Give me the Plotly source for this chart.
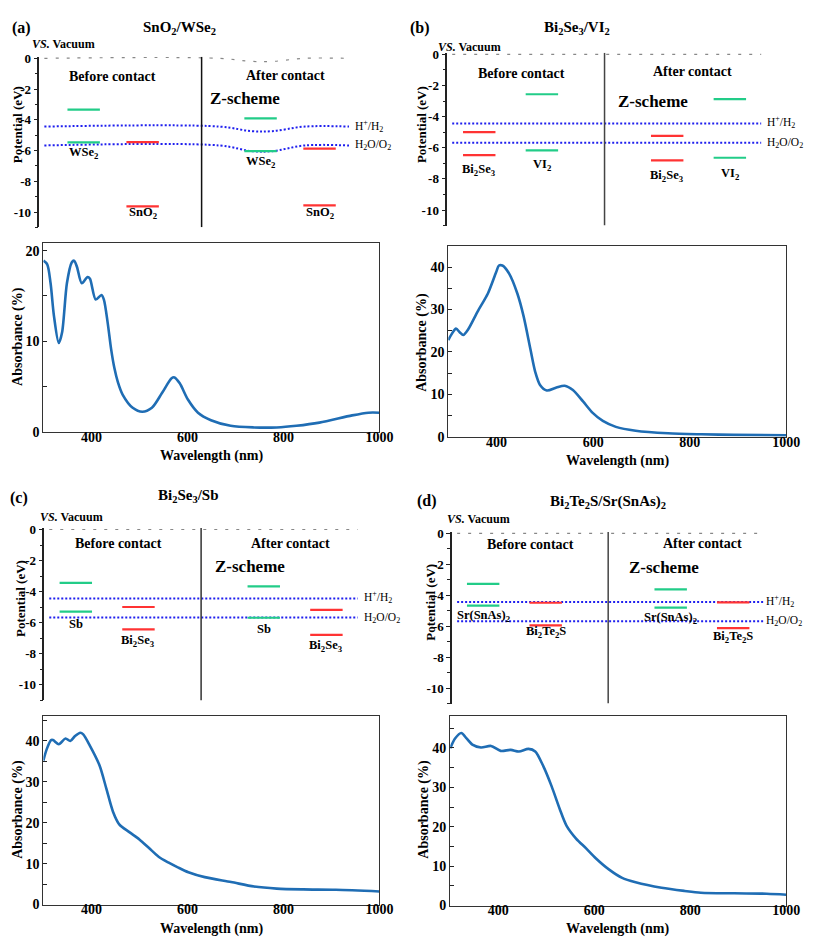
import plotly.graph_objects as go

W, H = 813, 940
FONT = "Liberation Serif"

# ------------------------------------------------------------------ data
# Band-edge potentials (eV vs. vacuum); order = [left material, right material]
a_title = "SnO<sub>2</sub>/WSe<sub>2</sub>"
a_materials = ["WSe<sub>2</sub>", "SnO<sub>2</sub>"]
a_cb_before = [-3.34, -5.45]
a_vb_before = [-5.47, -9.64]
a_cb_after = [-3.91, -5.87]
a_vb_after = [-6.04, -9.57]

b_title = "Bi<sub>2</sub>Se<sub>3</sub>/VI<sub>2</sub>"
b_materials = ["Bi<sub>2</sub>Se<sub>3</sub>", "VI<sub>2</sub>"]
b_cb_before = [-4.99, -2.56]
b_vb_before = [-6.47, -6.17]
b_cb_after = [-5.24, -2.88]
b_vb_after = [-6.81, -6.64]

c_title = "Bi<sub>2</sub>Se<sub>3</sub>/Sb"
c_materials = ["Sb", "Bi<sub>2</sub>Se<sub>3</sub>"]
c_cb_before = [-3.43, -4.99]
c_vb_before = [-5.28, -6.43]
c_cb_after = [-3.66, -5.17]
c_vb_after = [-5.68, -6.78]

d_title = "Bi<sub>2</sub>Te<sub>2</sub>S/Sr(SnAs)<sub>2</sub>"
d_materials = ["Sr(SnAs)<sub>2</sub>", "Bi<sub>2</sub>Te<sub>2</sub>S"]
d_cb_before = [-3.26, -4.48]
d_vb_before = [-4.67, -5.94]
d_cb_after = [-3.62, -4.46]
d_vb_after = [-4.80, -6.12]

vacuum_level = 0.0
redox_h = -4.44   # H+/H2
redox_o = -5.67   # H2O/O2
# panel (a): levels bent in the after-contact region
a_vac_bent = [0.0, 0.0, -0.2, -0.2, 0.0, 0.0]
a_h_bent = [-4.44, -4.44, -4.74, -4.74, -4.44, -4.44]
a_o_bent = [-5.67, -5.67, -6.04, -6.04, -5.67, -5.67]

pot_tickvals = [0, -2, -4, -6, -8, -10]
pot_ticktext = ["0", "-2", "-4", "-6", "-8", "-10"]

# Absorbance spectra (wavelength nm, absorbance %)
a_wl = [300, 308, 315, 322, 332, 339, 349, 359, 364, 370, 380, 392, 397, 409, 421, 426, 434,
        441, 448, 455, 465, 486, 506, 526, 547, 567, 573, 584, 601, 622, 649, 690, 738, 786,
        827, 875, 943, 977, 1000]
a_abs = [18.9, 18.5, 16.4, 12.8, 9.8, 11.0, 16.4, 18.7, 18.9, 18.2, 16.4, 17.1, 16.9, 14.6,
         15.1, 14.6, 12.0, 9.15, 7.0, 5.5, 4.1, 2.64, 2.2, 2.64, 4.27, 5.9, 6.0, 5.35, 3.55,
         2.1, 1.27, 0.65, 0.47, 0.47, 0.65, 1.0, 1.8, 2.1, 2.1]

b_wl = [300, 307, 316, 324, 331, 341, 361, 382, 399, 405, 412, 426, 443, 456, 470, 480, 490,
        504, 524, 541, 558, 579, 599, 620, 647, 688, 755, 823, 891, 1000]
b_abs = [22.8, 24.2, 25.5, 24.6, 24.0, 25.3, 29.6, 33.8, 38.8, 40.4, 40.4, 38.5, 33.8, 28.4,
         20.7, 15.3, 12.2, 10.9, 11.6, 12.0, 11.0, 8.3, 5.6, 3.7, 2.3, 1.4, 0.8, 0.55, 0.4, 0.3]

c_wl = [300, 307, 316, 320, 332, 346, 356, 366, 377, 383, 397, 417, 431, 445, 458, 479, 500,
        520, 540, 560, 580, 602, 636, 691, 739, 786, 841, 909, 1000]
c_abs = [35.2, 38.0, 40.2, 40.2, 39.2, 40.6, 40.0, 41.2, 42.0, 41.6, 38.8, 34.0, 28.4, 22.7,
         19.6, 17.7, 15.9, 13.8, 11.7, 10.3, 9.1, 7.9, 6.7, 5.5, 4.4, 3.9, 3.7, 3.6, 3.2]

d_wl = [300, 310, 323, 334, 347, 364, 385, 405, 426, 443, 463, 477, 494, 511, 528, 542, 562,
        583, 603, 631, 658, 686, 740, 788, 822, 891, 959, 1000]
d_abs = [39.9, 42.4, 43.8, 42.4, 40.75, 40.1, 40.5, 39.25, 39.5, 39.1, 39.75, 39.1, 35.3, 30.3,
         24.5, 20.3, 17.0, 14.5, 12.0, 9.1, 7.0, 5.9, 4.5, 3.7, 3.25, 3.1, 3.0, 2.75]

wl_tickvals = [400, 600, 800, 1000]

# ------------------------------------------------------------------ style / layout
GREEN = "#22cc88"
RED = "#ff3333"
BLUE = "#1f1fee"
CURVE = "#1f6db4"
AXC = "#222222"

fig = go.Figure()
annotations = []
shapes = []


def px2x(px):
    return px / W


def px2y(py):
    return 1 - py / H


def txt(x, y, text, size, xanchor="center", yanchor="middle", xref="paper", yref="paper",
        yshift=0, angle=0, color="black"):
    annotations.append(dict(x=x, y=y, text=text, xref=xref, yref=yref, showarrow=False,
                            xanchor=xanchor, yanchor=yanchor, yshift=yshift, textangle=angle,
                            font=dict(family=FONT, size=size, color=color)))


panels = [
    dict(key="a", letter="(a)", title=a_title, mats=a_materials,
         cbb=a_cb_before, vbb=a_vb_before, cba=a_cb_after, vba=a_vb_after,
         colors=[GREEN, RED], bent=True,
         axis=32, col1=77, step=60, right=400, y0=45, ppe=15.6, sep="#111111",
         lab_off=[[11, 7], [11, 8]], redox_x=351,
         letter_pos=(14, 14), title_pos=(174, 14), vs_pos=(22, 30), before_pos=(106, 63),
         after_pos=(282, 62), z_pos=(241, 86), pot_pos=(10, 112),
         wl=a_wl, ab=a_abs, box=(36, 378, 232, 424), ymax=20.9, ymaj=10,
         wl_title=(207, 449), ab_title=(10, 327)),
    dict(key="b", letter="(b)", title=b_title, mats=b_materials,
         cbb=b_cb_before, vbb=b_vb_before, cba=b_cb_after, vba=b_vb_after,
         colors=[RED, GREEN], bent=False,
         axis=447, col1=479.5, step=63.75, right=813, y0=41, ppe=15.8, sep="#444444",
         lab_off=[[15, 15], [16, 16]], redox_x=770,
         letter_pos=(419, 14), title_pos=(579, 14), vs_pos=(436, 33), before_pos=(522, 60),
         after_pos=(697, 58), z_pos=(656, 89), pot_pos=(421, 112),
         wl=b_wl, ab=b_abs, box=(448, 792, 236, 429), ymax=44.9, ymaj=10,
         wl_title=(620, 454), ab_title=(421, 333)),
    dict(key="c", letter="(c)", title=c_title, mats=c_materials,
         cbb=c_cb_before, vbb=c_vb_before, cba=c_cb_after, vba=c_vb_after,
         colors=[GREEN, RED], bent=False,
         axis=37, col1=69, step=63.75, right=405, y0=523.3, ppe=15.77, sep="#333333",
         lab_off=[[12, 12], [11, 11]], redox_x=360,
         letter_pos=(11, 491), title_pos=(184, 489), vs_pos=(31, 511), before_pos=(112, 538),
         after_pos=(287, 537), z_pos=(246, 561), pot_pos=(12, 593),
         wl=c_wl, ab=c_abs, box=(36, 378, 713, 904), ymax=46, ymaj=10,
         wl_title=(207, 929), ab_title=(10, 807)),
    dict(key="d", letter="(d)", title=d_title, mats=d_materials,
         cbb=d_cb_before, vbb=d_vb_before, cba=d_cb_after, vba=d_vb_after,
         colors=[GREEN, RED], bent=False,
         axis=452, col1=483.5, step=63.6, right=813, y0=527.3, ppe=15.7, sep="#444444",
         lab_off=[[10, 7], [10, 9]], redox_x=769,
         letter_pos=(426, 494), title_pos=(611, 495), vs_pos=(445, 513), before_pos=(532, 539),
         after_pos=(707, 538), z_pos=(667, 562), pot_pos=(430, 597),
         wl=d_wl, ab=d_abs, box=(450, 792, 713, 905), ymax=48, ymaj=10,
         wl_title=(620, 929), ab_title=(423, 807)),
]

layout_axes = {}
for i, p in enumerate(panels):
    # ---------------- band diagram (axis pair i+1)
    n = i + 1
    xa, ya = f"x{n}", f"y{n}"
    r0 = 1 - (p["col1"] - p["axis"]) / p["step"]
    r1 = 1 + (p["right"] - p["col1"]) / p["step"]
    ytop_px = p["y0"] - 0.1 * p["ppe"]
    ybot_px = p["y0"] + 11 * p["ppe"]
    layout_axes[f"xaxis{n}"] = dict(domain=[px2x(p["axis"]), px2x(p["right"])],
                                    range=[r0, r1], visible=False, anchor=ya)
    layout_axes[f"yaxis{n}"] = dict(domain=[px2y(ybot_px), px2y(ytop_px)], range=[-11, 0.1],
                                    anchor=xa, showline=True, linecolor=AXC, linewidth=1.5,
                                    showgrid=False, zeroline=False,
                                    tickmode="array", tickvals=pot_tickvals,
                                    ticktext=pot_ticktext, ticks="outside", ticklen=4,
                                    tickwidth=1.2, tickcolor=AXC,
                                    minor=dict(dtick=1, tick0=0, ticks="outside", ticklen=3,
                                               tickcolor=AXC, tickwidth=1),
                                    tickfont=dict(family=FONT, size=13, color="black",
                                                  weight="bold"))
    hw = 16.5 / p["step"]
    line_end = 5.5
    line_start = r0 + 5 / p["step"]
    stops = [line_start, 3.3, 3.85, 4.2, 4.75, line_end]
    # vacuum level + redox levels
    if p["bent"]:
        fig.add_trace(go.Scatter(x=stops, y=a_vac_bent, xaxis=xa, yaxis=ya, mode="lines",
                                 line=dict(color="#888888", width=1.2, dash="3px,8px",
                                           shape="spline"), showlegend=False, hoverinfo="skip"))
        for arr in (a_h_bent, a_o_bent):
            fig.add_trace(go.Scatter(x=stops, y=arr, xaxis=xa, yaxis=ya, mode="lines",
                                     line=dict(color=BLUE, width=2, dash="2px,2px",
                                               shape="spline"),
                                     showlegend=False, hoverinfo="skip"))
    else:
        fig.add_trace(go.Scatter(x=[line_start, line_end], y=[vacuum_level, vacuum_level],
                                 xaxis=xa, yaxis=ya, mode="lines",
                                 line=dict(color="#888888", width=1.2, dash="3px,8px"),
                                 showlegend=False, hoverinfo="skip"))
        for v in (redox_h, redox_o):
            fig.add_trace(go.Scatter(x=[line_start, line_end], y=[v, v], xaxis=xa, yaxis=ya,
                                     mode="lines",
                                     line=dict(color=BLUE, width=2, dash="2px,2px"),
                                     showlegend=False, hoverinfo="skip"))
    # separator
    shapes.append(dict(type="line", xref=xa, yref=ya, x0=3, x1=3, y0=-11, y1=0.1,
                       line=dict(color=p["sep"], width=1.5)))
    # band edges
    for stage, (cbs, vbs) in enumerate([(p["cbb"], p["vbb"]), (p["cba"], p["vba"])]):
        for m in range(2):
            cx = 1 + m + 3 * stage
            for v in (cbs[m], vbs[m]):
                fig.add_trace(go.Scatter(x=[cx - hw, cx + hw], y=[v, v], xaxis=xa, yaxis=ya,
                                         mode="lines", line=dict(color=p["colors"][m], width=2.2),
                                         showlegend=False, hoverinfo="skip"))
            txt(cx, vbs[m], "<b>" + p["mats"][m] + "</b>", 12.5, xref=xa, yref=ya,
                yshift=-p["lab_off"][stage][m])
    # redox labels
    lab_x = 1 + (p["redox_x"] - p["col1"]) / p["step"]
    txt(lab_x, redox_h, "H<sup>+</sup>/H<sub>2</sub>", 11.5, xanchor="left", xref=xa, yref=ya,
        yshift=1)
    txt(lab_x, redox_o, "H<sub>2</sub>O/O<sub>2</sub>", 11.5, xanchor="left", xref=xa, yref=ya,
        yshift=0)
    # texts
    txt(px2x(p["letter_pos"][0]), px2y(p["letter_pos"][1]), "<b>" + p["letter"] + "</b>", 16)
    txt(px2x(p["title_pos"][0]), px2y(p["title_pos"][1]), "<b>" + p["title"] + "</b>", 15)
    txt(px2x(p["vs_pos"][0]), px2y(p["vs_pos"][1]), "<b><i>VS.</i> Vacuum</b>", 12,
        xanchor="left")
    txt(px2x(p["before_pos"][0]), px2y(p["before_pos"][1]), "<b>Before contact</b>", 14)
    txt(px2x(p["after_pos"][0]), px2y(p["after_pos"][1]), "<b>After contact</b>", 14)
    txt(px2x(p["z_pos"][0]), px2y(p["z_pos"][1]), "<b>Z-scheme</b>", 17)
    txt(px2x(p["pot_pos"][0]), px2y(p["pot_pos"][1]), "<b>Potential (eV)</b>", 13, angle=-90)

    # ---------------- absorbance spectrum (axis pair i+5)
    n2 = i + 5
    xb, yb = f"x{n2}", f"y{n2}"
    x0, x1, yt, ybm = p["box"]
    layout_axes[f"xaxis{n2}"] = dict(domain=[px2x(x0), px2x(x1)], range=[300, 1000], anchor=yb,
                                     showline=True, mirror=True, linecolor="#333333",
                                     linewidth=1.2, showgrid=False, zeroline=False,
                                     tickmode="array", tickvals=wl_tickvals, ticks="outside",
                                     ticklen=0, ticklabelstandoff=-8,
                                     tickfont=dict(family=FONT, size=14, color="black",
                                                   weight="bold"))
    layout_axes[f"yaxis{n2}"] = dict(domain=[px2y(ybm), px2y(yt)], range=[0, p["ymax"]],
                                     anchor=xb, showline=True, mirror=True,
                                     linecolor="#333333", linewidth=1.2, showgrid=False,
                                     zeroline=False, dtick=p["ymaj"], tick0=0,
                                     ticks="inside", ticklen=4, tickcolor="#222222",
                                     minor=dict(dtick=p["ymaj"] / 2, tick0=0, ticks="inside",
                                                ticklen=4, tickcolor="#222222"),
                                     tickfont=dict(family=FONT, size=14, color="black",
                                                   weight="bold"))
    fig.add_trace(go.Scatter(x=p["wl"], y=p["ab"], xaxis=xb, yaxis=yb, mode="lines",
                             line=dict(color=CURVE, width=2.6, shape="spline", smoothing=0.8),
                             showlegend=False, hoverinfo="skip"))
    txt(px2x(p["wl_title"][0]), px2y(p["wl_title"][1]), "<b>Wavelength (nm)</b>", 14)
    txt(px2x(p["ab_title"][0]), px2y(p["ab_title"][1]), "<b>Absorbance (%)</b>", 14, angle=-90)

fig.update_layout(width=W, height=H, margin=dict(l=0, r=0, t=0, b=0),
                  paper_bgcolor="white", plot_bgcolor="rgba(0,0,0,0)",
                  annotations=annotations, shapes=shapes, showlegend=False,
                  font=dict(family=FONT, color="black"), **layout_axes)
fig.write_html("out.html")
